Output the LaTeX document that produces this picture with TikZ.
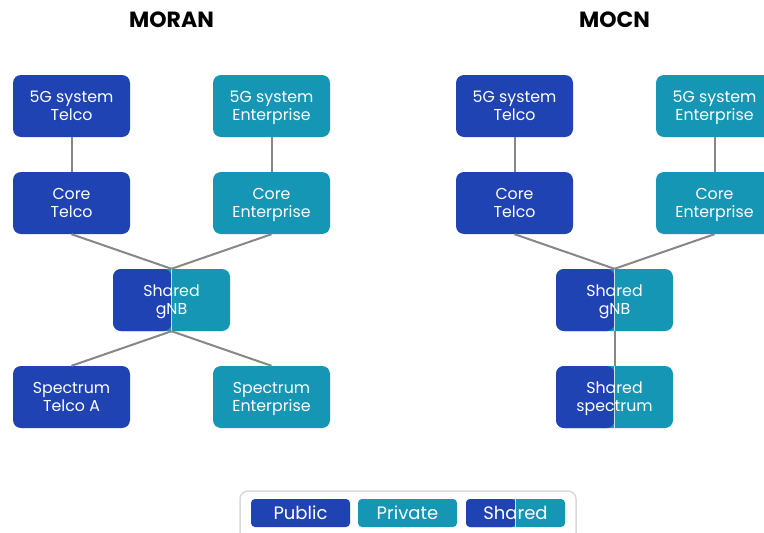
\documentclass[tikz,border=0pt]{standalone}
\usepackage{fontspec}
\setmainfont{Poppins}
% two centred lines, placed symmetrically about the node centre
\newcommand\boxlines[2]{\raisebox{-5.85pt}[0pt][0pt]{\begin{tabular}{@{}c@{}}#1\\#2\end{tabular}}}
\begin{document}
\begin{tikzpicture}[x=1pt,y=-1pt,
  every node/.style={font=\fontsize{15.8}{18}\selectfont},
  box/.style={rounded corners=8pt, minimum width=117pt, minimum height=62pt,
    inner sep=0pt, text=white},
  pubbox/.style={box, fill=pubc},
  privbox/.style={box, fill=privc},
  sharedbox/.style={box, fill=privc, path picture={
      \fill[pubc] (path picture bounding box.south west) rectangle (path picture bounding box.north);
      \draw[white!75!privc, line width=1.6pt] (path picture bounding box.south) -- (path picture bounding box.north);}},
  link/.style={draw=linkc, line width=2pt},
  title/.style={font=\fontsize{22}{26}\selectfont\bfseries, text=black},
  legbox/.style={rounded corners=4pt, minimum width=99pt, minimum height=28pt,
    inner sep=0pt, text=white, font=\fontsize{18}{20}\selectfont,
    execute at begin node={\rule[-5pt]{0pt}{23pt}}}
]
\definecolor{pubc}{HTML}{2043B4}
\definecolor{privc}{HTML}{1496B4}
\definecolor{linkc}{HTML}{878787}
\definecolor{framec}{HTML}{DADADA}
\useasboundingbox (0,0) rectangle (764,533);
\fill[white] (0,0) rectangle (764,533);

% ---------- MORAN ----------
\node[title] (t1) at (171.5,20) {MORAN};
\node[pubbox]  (s1) at (71.5,106) {\boxlines{5G system}{Telco}};
\node[privbox] (s2) at (271.5,106) {\boxlines{5G system}{Enterprise}};
\node[pubbox]  (c1) at (71.5,203) {\boxlines{Core}{Telco}};
\node[privbox] (c2) at (271.5,203) {\boxlines{Core}{Enterprise}};
\node[sharedbox] (g1) at (171.5,300) {\boxlines{Shared}{gNB}};
\node[pubbox]  (p1) at (71.5,397) {\boxlines{Spectrum}{Telco A}};
\node[privbox] (p2) at (271.5,397) {\boxlines{Spectrum}{Enterprise}};

\draw[link] (s1.south) -- (c1.north);
\draw[link] (s2.south) -- (c2.north);
\draw[link] (c1.south) -- (g1.north);
\draw[link] (c2.south) -- (g1.north);
\draw[link] (g1.south) -- (p1.north);
\draw[link] (g1.south) -- (p2.north);

% ---------- MOCN ----------
\node[title] (t2) at (614.5,20) {MOCN};
\node[pubbox]  (s3) at (514.5,106) {\boxlines{5G system}{Telco}};
\node[privbox] (s4) at (714.5,106) {\boxlines{5G system}{Enterprise}};
\node[pubbox]  (c3) at (514.5,203) {\boxlines{Core}{Telco}};
\node[privbox] (c4) at (714.5,203) {\boxlines{Core}{Enterprise}};
\node[sharedbox] (g2) at (614.5,300) {\boxlines{Shared}{gNB}};
\node[sharedbox] (p3) at (614.5,397) {\boxlines{Shared}{spectrum}};

\draw[link] (s3.south) -- (c3.north);
\draw[link] (s4.south) -- (c4.north);
\draw[link] (c3.south) -- (g2.north);
\draw[link] (c4.south) -- (g2.north);
\draw[link] (g2.south) -- (p3.north);

% ---------- legend ----------
\draw[framec, line width=1.5pt, rounded corners=8pt] (240,491) rectangle (576,545);
\node[legbox, fill=pubc] (lp) at (300.5,513) {Public};
\node[legbox, fill=privc] (lv) at (407.5,513) {Private};
\node[legbox, fill=privc, path picture={
    \fill[pubc] (path picture bounding box.south west) rectangle (path picture bounding box.north);
    \draw[white!75!privc, line width=1.2pt] (path picture bounding box.south) -- (path picture bounding box.north);}] (ls) at (515.5,513) {Shared};
\end{tikzpicture}
\end{document}
